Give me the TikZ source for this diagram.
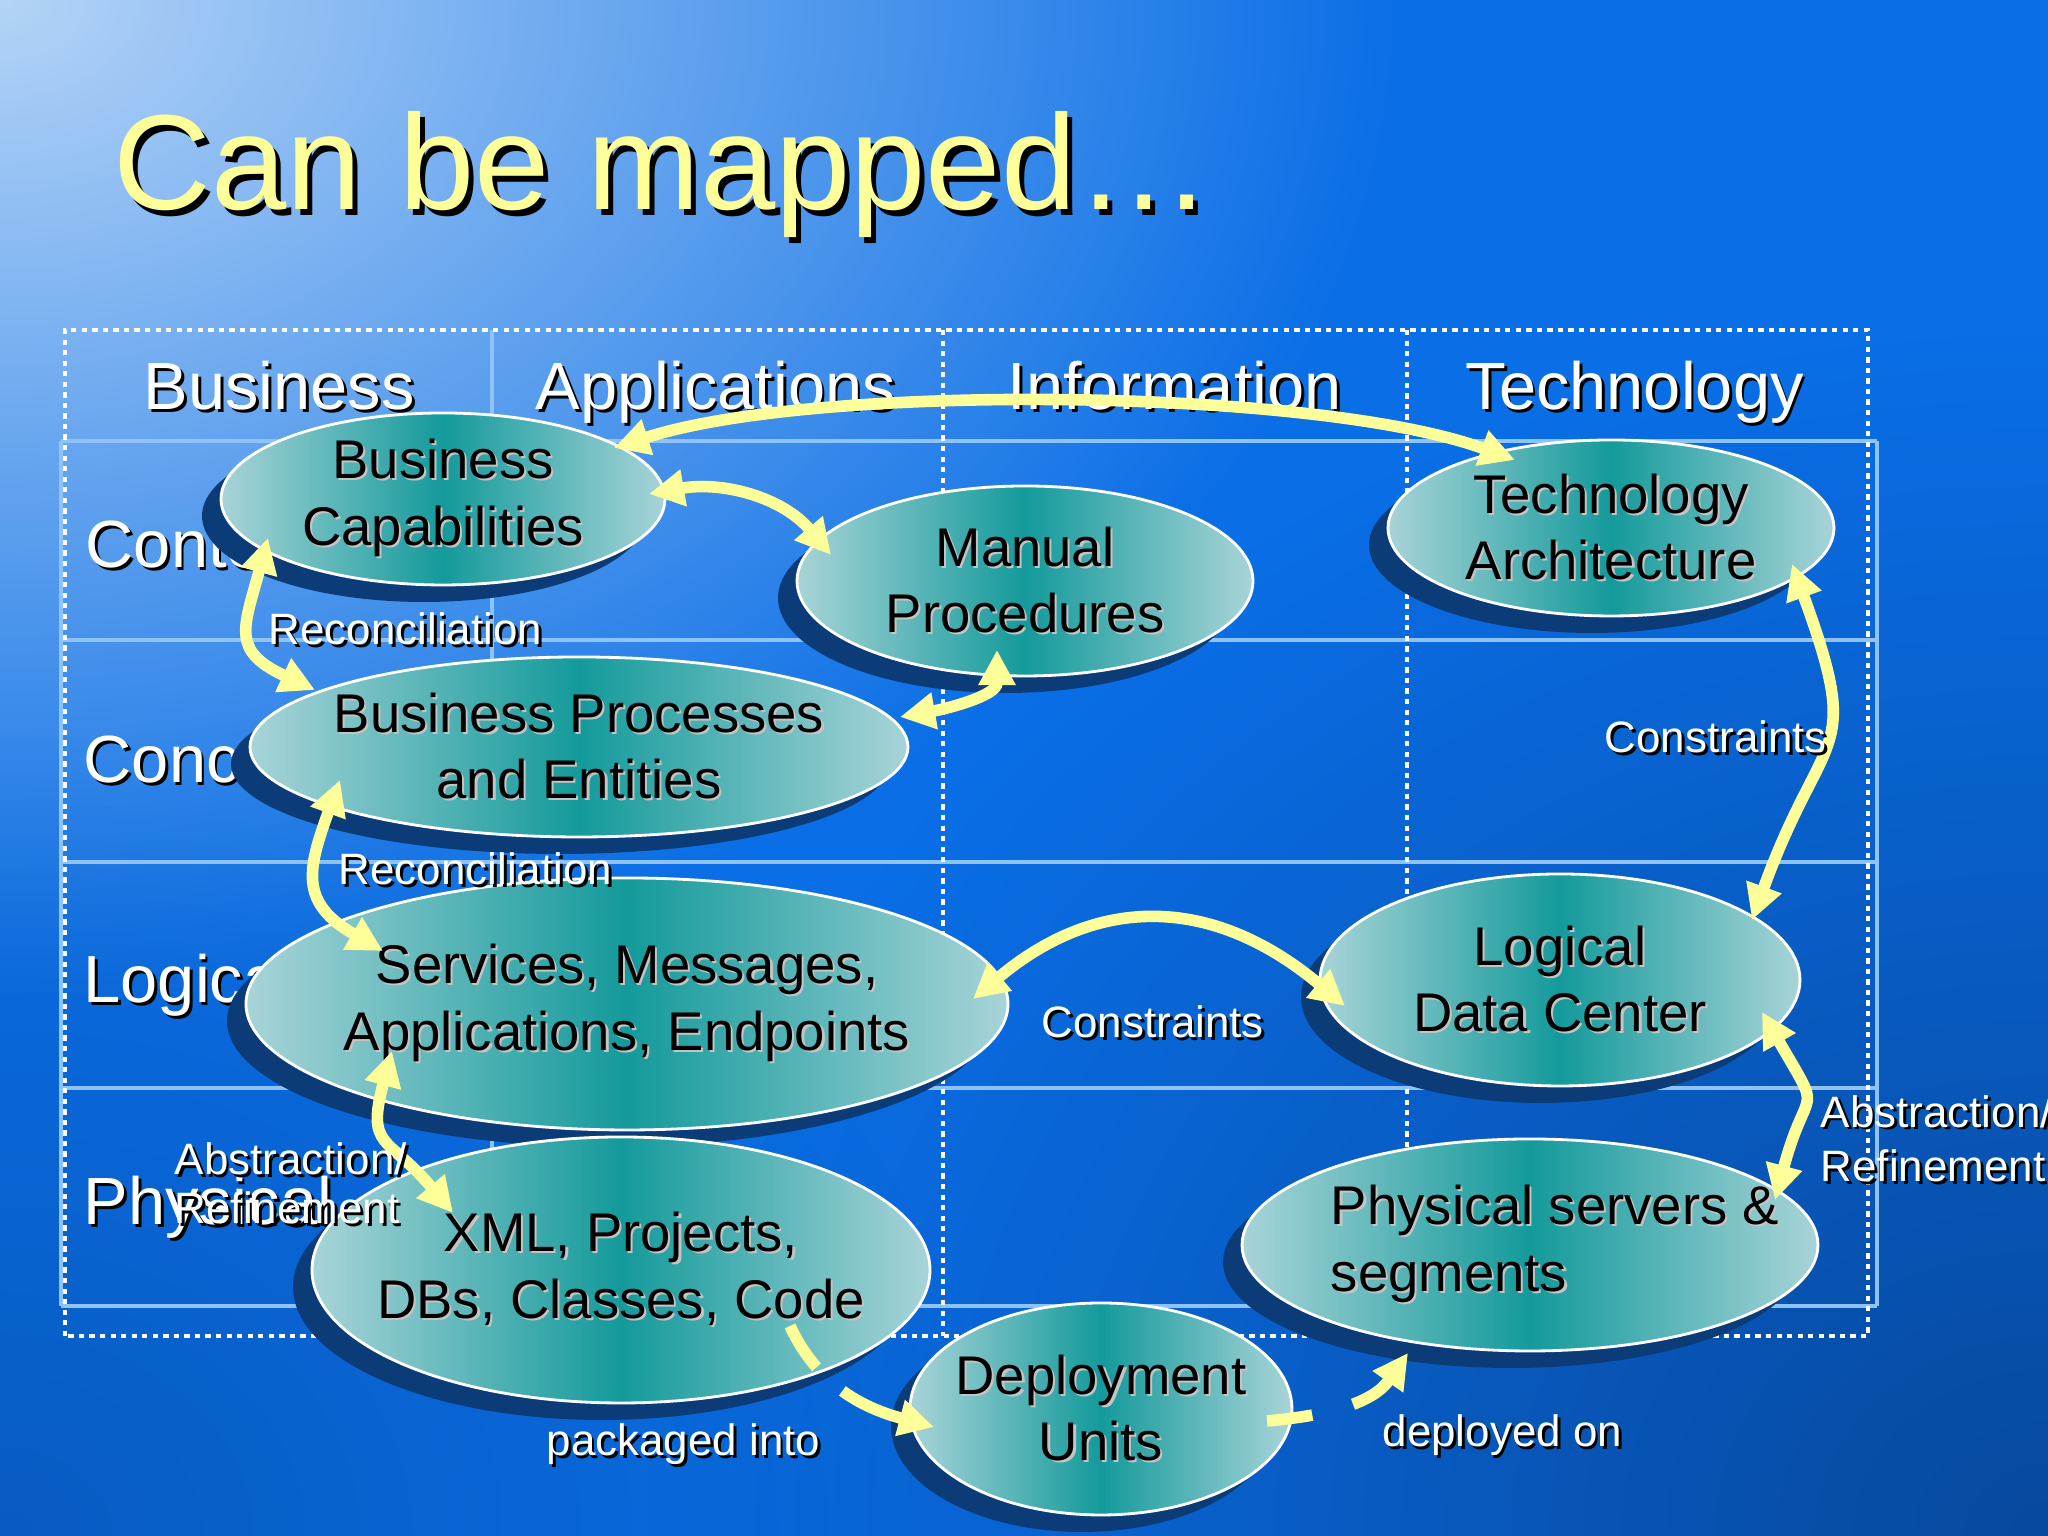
\documentclass[tikz,border=0pt]{standalone}
\usepackage{fontspec}
\setmainfont{Liberation Sans}
\newfontfamily\titlefont{Liberation Sans}
\usetikzlibrary{arrows.meta, shapes.geometric, shadows, fadings}

\definecolor{slideblue}{HTML}{0A6EE6}
\definecolor{slidelight}{HTML}{D2E6FA}
\definecolor{slidedark}{HTML}{05306E}
\definecolor{gridblue}{HTML}{8FC2F7}
\definecolor{linkyellow}{HTML}{FFFF99}
\definecolor{bubbleedge}{HTML}{A8D4D8}
\definecolor{bubbleteal}{HTML}{149A9B}
\definecolor{bubbleshadow}{HTML}{0C3C78}
\definecolor{textshade}{HTML}{C4C4C4}

\tikzfading[name=glow, inner color=transparent!0, outer color=transparent!100]

% text with a small drop shadow
\newcommand{\shadowed}[3]{\leavevmode\rlap{\kern#1\raisebox{-#1}{\color{#2}#3}}#3}
\newcommand{\inbubble}[1]{\shadowed{0.6pt}{textshade}{#1}}
\newcommand{\onslide}[1]{\shadowed{0.8pt}{black}{#1}}

\begin{document}
\begin{tikzpicture}[
    >={Triangle[length=10pt, width=10pt]},
    bubble/.style={ellipse, draw=white, line width=0.8pt,
        left color=bubbleedge, right color=bubbleedge, middle color=bubbleteal,
        inner sep=-1cm, align=center, text=black,
        font=\fontsize{15.5}{19}\selectfont,
        drop shadow={shadow xshift=-0.19cm, shadow yshift=-0.17cm,
            fill=bubbleshadow, opacity=1}},
    heading/.style={anchor=base west, inner sep=0pt, text=white,
        font=\fontsize{19}{23}\selectfont},
    tag/.style={inner sep=0pt, text=white, font=\fontsize{12.5}{14}\selectfont},
    link/.style={draw=linkyellow, line width=3.3pt},
    rowline/.style={draw=gridblue, line width=1pt},
    dotline/.style={draw=white, line width=1.1pt, dash pattern=on 1.5pt off 1.5pt}
]
    % Slide background
    \useasboundingbox (0,0) rectangle (20.48,15.36);
    \clip (0,0) rectangle (20.48,15.36);
    \fill[slideblue] (0,0) rectangle (20.48,15.36);
    \fill[slidelight, path fading=glow, fill opacity=0.85] (0,15.36) ellipse (14 and 10);
    \fill[slidedark, path fading=glow, fill opacity=0.6] (20.48,0) ellipse (14 and 12);
    \fill[slidedark, path fading=glow, fill opacity=0.3] (0,0) ellipse (10 and 8);

    % Title
    \node[anchor=base west, inner sep=0pt, text=linkyellow,
        font=\titlefont\fontsize{38.5}{45}\selectfont] (title) at (1.13,13.26)
        {\shadowed{1.5pt}{black}{Can be mapped…}};

    % Grid: rows (solid) and frame/columns (dotted)
    \foreach \y in {10.95, 8.96, 6.74, 4.48, 2.30}
        \draw[rowline] (0.61,\y) -- (18.77,\y);
    \draw[rowline] (0.61,10.95) -- (0.61,2.30);
    \draw[rowline] (18.77,10.95) -- (18.77,2.30);
    \draw[rowline] (4.92,12.06) -- (4.92,2.00);
    \draw[dotline] (0.65,2.00) rectangle (18.68,12.06);
    \foreach \x in {9.43, 14.07}
        \draw[dotline] (\x,12.06) -- (\x,2.00);

    % Column headings
    \node[heading] (hbusiness) at (1.43,11.26) {\onslide{Business}};
    \node[heading] (happs) at (5.35,11.26) {\onslide{Applications}};
    \node[heading] (hinfo) at (10.07,11.26) {\onslide{Information}};
    \node[heading] (htech) at (14.65,11.26) {\onslide{Technology}};

    % Row headings
    \node[heading] (rcontext) at (0.85,9.68) {\onslide{Context}};
    \node[heading] (rconceptual) at (0.83,7.53) {\onslide{Conceptual}};
    \node[heading] (rlogical) at (0.83,5.33) {\onslide{Logical}};
    \node[heading] (rphysical) at (0.83,3.11) {\onslide{Physical}};

    % Bubbles
    \node[bubble, minimum width=4.44cm, minimum height=1.72cm] (bizcap) at (4.43,10.37)
        {\inbubble{Business}\\\inbubble{Capabilities}};
    \node[bubble, minimum width=4.56cm, minimum height=1.90cm] (manual) at (10.25,9.55)
        {\inbubble{Manual}\\\inbubble{Procedures}};
    \node[bubble, minimum width=4.46cm, minimum height=1.76cm] (techarch) at (16.11,10.08)
        {\inbubble{Technology}\\\inbubble{Architecture}};
    \node[bubble, minimum width=6.58cm, minimum height=1.80cm] (bizproc) at (5.79,7.89)
        {\inbubble{Business Processes}\\\inbubble{and Entities}};
    \node[bubble, minimum width=7.62cm, minimum height=2.52cm] (services) at (6.27,5.32)
        {\inbubble{Services, Messages,}\\\inbubble{Applications, Endpoints}};
    \node[bubble, minimum width=4.80cm, minimum height=2.12cm] (datacenter) at (15.60,5.56)
        {\inbubble{Logical}\\\inbubble{Data Center}};
    \node[bubble, minimum width=6.18cm, minimum height=2.66cm] (xmlcode) at (6.21,2.66)
        {\inbubble{XML, Projects,}\\\inbubble{DBs, Classes, Code}};
    \node[bubble, minimum width=5.76cm, minimum height=2.12cm, align=left] (servers) at (15.30,2.91)
        {\hspace*{0.5cm}\inbubble{Physical servers \&}\\\hspace*{0.5cm}\inbubble{segments}};
    \node[bubble, minimum width=3.82cm, minimum height=2.12cm] (deploy) at (11.01,1.27)
        {\inbubble{Deployment}\\\inbubble{Units}};

    % Links between bubbles
    \draw[link, <->] ([shift={(1.71,0.51)}]bizcap.center) to[out=18, in=160, looseness=0.6]
        ([shift={(-0.96,0.68)}]techarch.center);
    \draw[link, <->] ([shift={(2.06,0.05)}]bizcap.center) to[out=10, in=130]
        ([shift={(-1.94,0.26)}]manual.center);
    \draw[link, <->] ([shift={(-1.75,-0.39)}]bizcap.center) to[out=255, in=155, looseness=1.5]
        ([shift={(-2.64,0.57)}]bizproc.center);
    \draw[link, <->] ([shift={(3.21,0.30)}]bizproc.center) to[out=10, in=270]
        ([shift={(-0.28,-0.69)}]manual.center);
    \draw[link, <->] ([shift={(-2.39,-0.33)}]bizproc.center) to[out=250, in=150, looseness=1.4]
        ([shift={(-2.44,0.53)}]services.center);
    \draw[link, <->] ([shift={(3.46,0.05)}]services.center) to[out=40, in=140, looseness=1.15]
        ([shift={(-2.15,-0.26)}]datacenter.center);
    \draw[link, <->] ([shift={(1.81,-0.36)}]techarch.center) to[out=-70, in=70, looseness=1.5]
        ([shift={(1.92,0.60)}]datacenter.center);
    \draw[link, <->] ([shift={(-2.35,-0.47)}]services.center) to[out=255, in=130, looseness=1.5]
        ([shift={(-1.68,0.57)}]xmlcode.center);
    \draw[link, <->] ([shift={(2.02,-0.32)}]datacenter.center) to[out=-60, in=75, looseness=1.7]
        ([shift={(2.45,0.45)}]servers.center);
    \draw[link, ->, dash pattern=on 14pt off 10pt on 200pt off 1pt]
        ([shift={(1.69,-0.56)}]xmlcode.center) to[out=-65, in=165]
        ([shift={(-1.67,-0.18)}]deploy.center);
    \draw[link, ->, dash pattern=on 13pt off 12pt on 200pt off 1pt]
        ([shift={(1.66,-0.12)}]deploy.center) to[out=5, in=235]
        ([shift={(-1.22,-1.08)}]servers.center);

    % Link labels
    \node[tag, anchor=base west] (recon1) at (2.68,8.91) {\onslide{Reconciliation}};
    \node[tag, anchor=base west] (recon2) at (3.38,6.51) {\onslide{Reconciliation}};
    \node[tag, anchor=west] (constr1) at (16.04,7.98) {\onslide{Constraints}};
    \node[tag, anchor=west] (constr2) at (10.41,5.13) {\onslide{Constraints}};
    \node[tag, anchor=west] (packed) at (5.46,0.90) {\onslide{packaged into}};
    \node[tag, anchor=west] (deployed) at (13.82,0.99) {\onslide{deployed on}};
    \node[tag, anchor=west, align=left] (absleft) at (1.74,3.51)
        {\onslide{Abstraction/}\\\onslide{Refinement}};
    \node[tag, anchor=west, align=left, font=\fontsize{12.5}{15.5}\selectfont] (absright) at (18.20,3.96)
        {\onslide{Abstraction/}\\\onslide{Refinement}};
\end{tikzpicture}
\end{document}
